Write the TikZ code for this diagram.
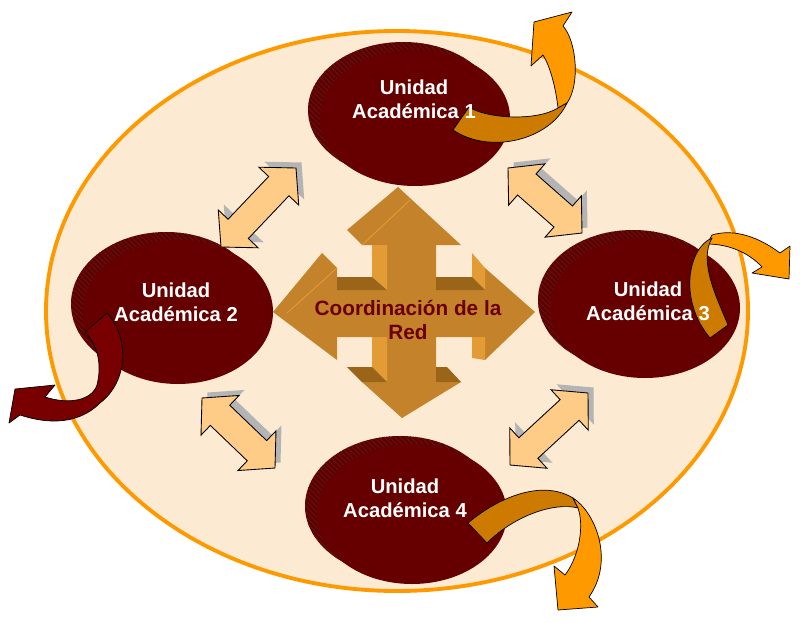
\documentclass[tikz,border=0pt]{standalone}
\usepackage{fontspec}
\setmainfont{Liberation Sans}
\usetikzlibrary{calc, patterns}
\definecolor{UAcream}{HTML}{FDEAD2}
\definecolor{UAorange}{HTML}{FF9900}
\definecolor{UAbrown}{HTML}{CC7A00}
\definecolor{UAmaroon}{HTML}{660000}
\definecolor{UAmaroonback}{HTML}{5A0202}
\definecolor{UAhatch}{HTML}{701212}
\definecolor{UAribbon}{HTML}{780000}
\definecolor{UApeach}{HTML}{FFCC88}
\definecolor{UAshadow}{HTML}{B4B4B4}
\definecolor{UAcross}{HTML}{C4832A}
\definecolor{UAcrosslight}{HTML}{E39B35}
\definecolor{UAcrossdark}{HTML}{9A6419}
\definecolor{UAtext}{HTML}{6B0000}

\newcommand{\dblarrowshape}[3]{%
  \coordinate (hA) at ($(#1)!0.5cm!(#2)$);
  \coordinate (hB) at ($(#2)!0.5cm!(#1)$);
  \path[#3] (#1) -- ($(hA)!0.55cm!90:(#2)$) -- ($(hA)!0.28cm!90:(#2)$)
    -- ($(hB)!0.28cm!-90:(#1)$) -- ($(hB)!0.55cm!-90:(#1)$) -- (#2)
    -- ($(hB)!0.55cm!90:(#1)$) -- ($(hB)!0.28cm!90:(#1)$)
    -- ($(hA)!0.28cm!-90:(#2)$) -- ($(hA)!0.55cm!-90:(#2)$) -- cycle;
}
\newcommand{\dblarrow}[2]{%
  \coordinate (sA) at ($(#1)+(0.11cm,0.11cm)$);
  \coordinate (sB) at ($(#2)+(0.11cm,0.11cm)$);
  \dblarrowshape{sA}{sB}{fill=UAshadow}
  \dblarrowshape{#1}{#2}{fill=UApeach, draw=black, line width=0.5pt, line join=miter}
}

\begin{document}
\begin{tikzpicture}[x=0.02cm, y=-0.02cm,
    unitlabel/.style={text=white, font=\bfseries\fontsize{11.5}{13.6}\selectfont, align=center, inner sep=0pt},
    centerlabel/.style={text=UAtext, font=\bfseries\fontsize{11.8}{14.2}\selectfont, align=center, inner sep=0pt},
    ribbonlight/.style={fill=UAorange, draw=black, line width=0.4pt, line join=round},
    ribbondark/.style={fill=UAbrown, draw=black, line width=0.4pt, line join=round}]
  \useasboundingbox (0,0) rectangle (800,622);
  % outer network
  \filldraw[fill=UAcream, draw=UAorange, line width=2.2pt] (397,311) ellipse [x radius=351, y radius=280];
  % academic units
  \foreach \cx/\cy/\ry in {415/118/68, 178/312/72, 645/308/70, 412/514/70} {
    \fill[UAmaroonback, postaction={pattern=north west lines, pattern color=UAhatch}]
      (\cx-12,\cy-8) ellipse [x radius=95, y radius=\ry];
    \fill[UAmaroon] (\cx,\cy) ellipse [x radius=95, y radius=\ry];
  }
  % links between units
  \coordinate (a12s) at (221,247);
  \coordinate (a12e) at (296,168);
  \coordinate (a13s) at (508,168);
  \coordinate (a13e) at (582,233);
  \coordinate (a24s) at (202,398);
  \coordinate (a24e) at (275,468);
  \coordinate (a34s) at (510,465);
  \coordinate (a34e) at (588,393);
  \dblarrow{a12s}{a12e}
  \dblarrow{a13s}{a13e}
  \dblarrow{a24s}{a24e}
  \dblarrow{a34s}{a34e}
  % four-way arrow in the middle
  \fill[UAcross] (398,187) -- (461,245) -- (436,245) -- (436,290) -- (485,290) -- (485,268)
    -- (535,312) -- (485,360) -- (485,337) -- (436,337) -- (436,382) -- (461,382)
    -- (402,418) -- (362,382) -- (387,382) -- (387,337) -- (337,337) -- (337,360)
    -- (273,312) -- (322,253) -- (337,268) -- (337,290) -- (387,290) -- (387,245)
    -- (362,245) -- (347,230) -- cycle;
  \fill[UAcrosslight] (372,245) -- (387,245) -- (387,290) -- (372,277) -- cycle;
  \fill[UAcrosslight] (472,253) -- (485,268) -- (485,290) -- (472,277) -- cycle;
  \fill[UAcrosslight] (472,337) -- (485,337) -- (485,360) -- (472,358) -- cycle;
  \fill[UAcrosslight] (372,337) -- (387,337) -- (387,382) -- (372,367) -- cycle;
  \fill[UAcrossdark] (337,277) -- (372,277) -- (387,290) -- (337,290) -- cycle;
  \fill[UAcrossdark] (436,277) -- (472,277) -- (485,290) -- (436,290) -- cycle;
  \fill[UAcrossdark] (347,367) -- (372,367) -- (387,382) -- (362,382) -- cycle;
  \fill[UAcrossdark] (436,367) -- (447,367) -- (461,382) -- (436,382) -- cycle;
  \draw[UAcrosslight, line width=0.5pt] (362,245) -- (410,200);
  \draw[UAcrosslight, line width=0.5pt] (337,268) -- (287,313);
  % curved arrows leaving the network
  \draw[ribbonlight] (558,108) .. controls (556,90) and (551,68) .. (543,55) -- (531,66) -- (534,22)
    -- (572,12) -- (563,26) .. controls (577,42) and (580,85) .. (567,103) -- cycle;
  \draw[ribbondark] (453,130) -- (469,107) .. controls (485,118) and (535,122) .. (558,108) -- (567,103)
    .. controls (550,140) and (490,155) .. (453,130) -- cycle;
  \draw[ribbonlight] (707,244) -- (712,235) .. controls (735,228) and (760,238) .. (780,253) -- (790,246)
    -- (789,279) -- (752,273) -- (762,267) .. controls (748,252) and (728,244) .. (707,244) -- cycle;
  \draw[ribbondark] (712,238) .. controls (688,248) and (678,300) .. (710,338) -- (728,325)
    .. controls (718,300) and (698,262) .. (712,238) -- cycle;
  \draw[ribbondark] (468,523) .. controls (495,500) and (540,478) .. (573,498) -- (578,508)
    .. controls (555,502) and (515,515) .. (487,543) -- cycle;
  \draw[ribbonlight] (573,498) .. controls (595,512) and (615,560) .. (589,597) -- (598,607) -- (558,610)
    -- (554,566) -- (565,575) .. controls (580,555) and (584,525) .. (578,508) -- cycle;
  \draw[fill=UAribbon, draw=black, line width=0.4pt, line join=round]
    (107,313) .. controls (128,335) and (130,380) .. (100,403) .. controls (85,418) and (60,428) .. (20,415)
    -- (9,423) -- (15,389) -- (55,385) -- (45,397) .. controls (70,405) and (92,400) .. (97,385)
    .. controls (102,365) and (98,345) .. (85,332) -- cycle;
  % labels
  \node[unitlabel] (u1) at (414,99) {Unidad\\Académica 1};
  \node[unitlabel] (u2) at (176,302) {Unidad\\Académica 2};
  \node[unitlabel] (u3) at (648,301) {Unidad\\Académica 3};
  \node[unitlabel] (u4) at (405,498) {Unidad\\Académica 4};
  \node[centerlabel] (coord) at (408,320) {Coordinación de la\\Red};
\end{tikzpicture}
\end{document}
